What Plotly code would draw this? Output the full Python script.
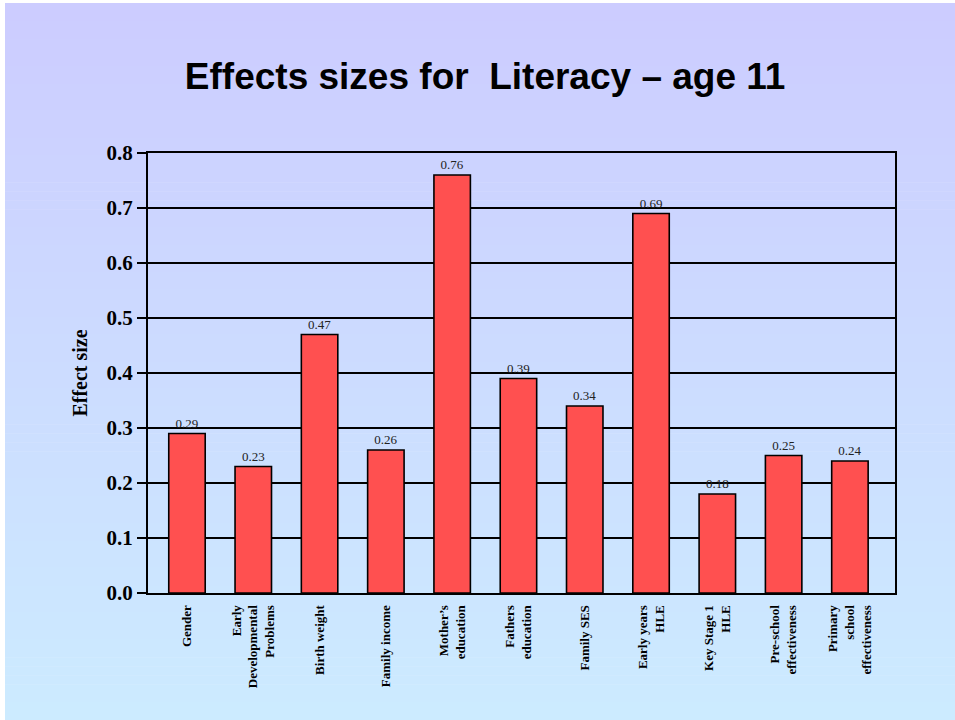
import plotly.graph_objects as go

# Effect sizes on literacy at age 11
categories = [
    "Gender",
    "Early<br>Developmental<br>Problems",
    "Birth weight",
    "Family income",
    "Mother\u2019s<br>education",
    "Fathers<br>education",
    "Family SES",
    "Early years<br>HLE",
    "Key Stage 1<br>HLE",
    "Pre-school<br>effectiveness",
    "Primary<br>school<br>effectiveness",
]
effect_sizes = [0.29, 0.23, 0.47, 0.26, 0.76, 0.39, 0.34, 0.69, 0.18, 0.25, 0.24]
value_labels = ["0.29", "0.23", "0.47", "0.26", "0.76", "0.39", "0.34", "0.69", "0.18", "0.25", "0.24"]
y_ticks = [0.0, 0.1, 0.2, 0.3, 0.4, 0.5, 0.6, 0.7, 0.8]

W, H = 955, 720
L, R, T, B = 148, 60, 153, 127
PW, PH = W - L - R, H - T - B

serif = "Liberation Serif, Times New Roman, serif"

fig = go.Figure(
    go.Bar(
        x=list(range(len(categories))),
        y=effect_sizes,
        width=0.55,
        marker=dict(color="#ff5050", line=dict(color="black", width=1.6)),
        text=value_labels,
        textposition="outside",
        textfont=dict(family=serif, size=13, color="#222222"),
        cliponaxis=False,
        hoverinfo="skip",
    )
)

# vertical background gradient, lavender at the top to pale sky blue at the bottom
top_rgb = (204, 204, 255)
bot_rgb = (204, 235, 255)
n_bands = 80
y0_px, y1_px = 3, H
x0_px = 5
shapes = []
for i in range(n_bands):
    t = i / (n_bands - 1)
    c = tuple(round(a + (b - a) * t) for a, b in zip(top_rgb, bot_rgb))
    py_top = y0_px + (y1_px - y0_px) * i / n_bands
    py_bot = y0_px + (y1_px - y0_px) * (i + 1) / n_bands + 0.6
    shapes.append(dict(
        type="rect", xref="paper", yref="paper", layer="below",
        x0=(x0_px - L) / PW, x1=(W - L) / PW + 0.01,
        y0=(H - B - py_bot) / PH, y1=(H - B - py_top) / PH,
        fillcolor="rgb(%d,%d,%d)" % c, line=dict(width=0),
    ))

fig.update_layout(
    width=W, height=H,
    margin=dict(l=L, r=R, t=T, b=B, pad=0),
    paper_bgcolor="white",
    plot_bgcolor="rgba(0,0,0,0)",
    shapes=shapes,
    showlegend=False,
    title=dict(
        text="Effects sizes for  Literacy \u2013 age 11",
        font=dict(family="Liberation Sans, Arial, sans-serif", size=37, color="black", weight="bold"),
        x=0.508, xanchor="center", y=1 - 76 / H, yanchor="middle",
    ),
    xaxis=dict(
        range=[-0.588, 10.68],
        tickmode="array",
        tickvals=list(range(len(categories))),
        ticktext=categories,
        tickangle=-90,
        ticks="",
        ticklabelstandoff=5,
        tickfont=dict(family=serif, size=13, color="black", weight="bold"),
        showgrid=False,
        showline=True, linecolor="black", linewidth=2, mirror=True,
        zeroline=False,
    ),
    yaxis=dict(
        range=[0, 0.8],
        tickmode="array",
        tickvals=y_ticks,
        ticktext=["%.1f" % v for v in y_ticks],
        ticks="outside", ticklen=9, tickwidth=2, tickcolor="black",
        tickfont=dict(family=serif, size=21, color="black", weight="bold"),
        showgrid=True, gridcolor="black", gridwidth=1.6,
        showline=True, linecolor="black", linewidth=2, mirror=True,
        zeroline=False,
        title=dict(text="Effect size", standoff=14,
                   font=dict(family=serif, size=20, color="black", weight="bold")),
    ),
)

fig.write_html("out.html")
